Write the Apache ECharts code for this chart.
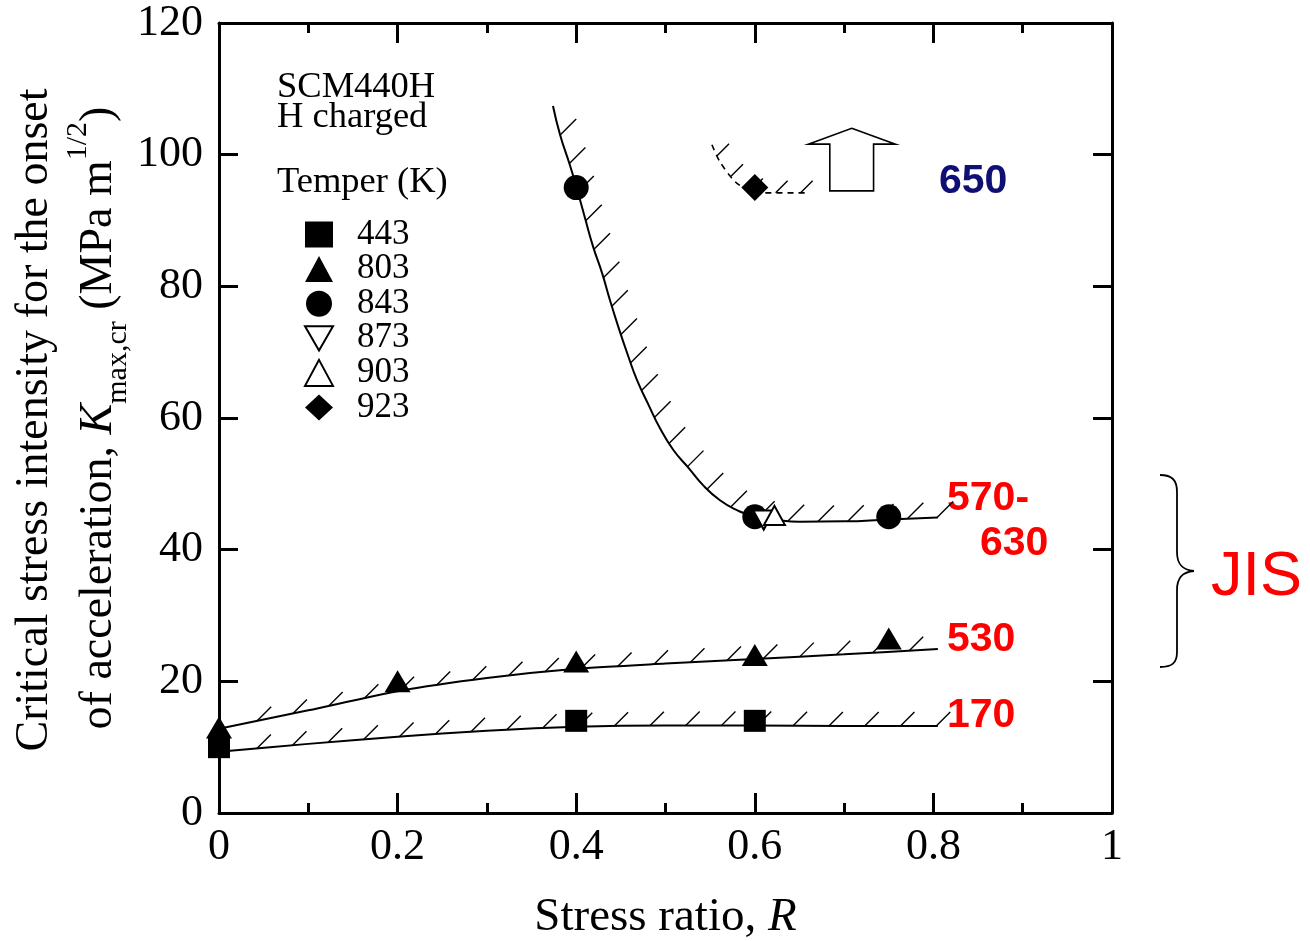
<!DOCTYPE html>
<html>
<head>
<meta charset="utf-8">
<script src="https://cdn.jsdelivr.net/npm/echarts@6/dist/echarts.min.js"></script>
<style>
  html, body { margin: 0; padding: 0; background: #fff; }
  #chart { width: 1310px; height: 941px; }
</style>
</head>
<body>
<div id="chart"></div>
<script>
// ---- tick labels ----
const xTickLabels = ['0', '0.2', '0.4', '0.6', '0.8', '1'];
const yTickLabels = ['0', '20', '40', '60', '80', '100', '120'];

// ---- measured points, [stress ratio R, Kmax,cr] per temper temperature (K) ----
const temperNames = ['443', '803', '843', '873', '903', '923'];
const pts443 = [[0, 10], [0.4, 14], [0.6, 14]];
const pts803 = [[0, 13], [0.2, 20], [0.4, 23], [0.6, 24], [0.75, 26.5]];
const pts843 = [[0.4, 95], [0.6, 45], [0.75, 45]];
const pts873 = [[0.61, 44.5]];
const pts903 = [[0.622, 45.2]];
const pts923 = [[0.6, 95]];

// ---- boundary curves (hatched on the accelerated side) ----
const curve170 = [[0, 9.3], [0.1, 10.5], [0.2, 11.6], [0.3, 12.5], [0.4, 13.1], [0.5, 13.3], [0.6, 13.3], [0.7, 13.2], [0.805, 13.2]];
const curve530 = [[0, 12.8], [0.1, 15.6], [0.2, 18.5], [0.3, 20.5], [0.4, 21.9], [0.5, 22.7], [0.6, 23.4], [0.7, 24.1], [0.805, 24.9]];
const curve600 = [[0.374, 107.4], [0.382, 103], [0.393, 98.4], [0.4, 95.2], [0.41, 90.3], [0.419, 86], [0.429, 82],
                  [0.438, 77.8], [0.448, 73.5], [0.458, 69.5], [0.468, 65.8], [0.481, 62], [0.494, 58.4], [0.509, 55.1],
                  [0.526, 52.4], [0.542, 49.8], [0.561, 47.5], [0.58, 46.0], [0.6, 45.0], [0.625, 44.5], [0.65, 44.25],
                  [0.7, 44.3], [0.75, 44.6], [0.805, 44.9]];
const curve650 = [[0.552, 101.5], [0.561, 98.9], [0.578, 95.9], [0.593, 94.6], [0.61, 94.2], [0.66, 94.2]];

// open block arrow above the 650 K boundary, in data units
const arrowShape = [[0.7085, 104.0], [0.7575, 101.6], [0.733, 101.6], [0.733, 94.5], [0.684, 94.5], [0.684, 101.6], [0.660, 101.6]];

const SERIF = '"Liberation Serif", "Times New Roman", serif';
const SANS = '"Liberation Sans", Arial, sans-serif';
const RED = '#ff0000';
const NAVY = '#0f0f74';

// short 45-degree hatch ticks placed at equal arc length along a curve
function hatchRenderer(curve, spacing, offset, len, width) {
  return function (params, api) {
    const p = curve.map(d => api.coord(d));
    const children = [];
    let next = offset, acc = 0;
    for (let i = 1; i < p.length; i++) {
      const dx = p[i][0] - p[i - 1][0], dy = p[i][1] - p[i - 1][1];
      const seg = Math.hypot(dx, dy);
      while (next <= acc + seg) {
        const t = (next - acc) / seg;
        const x = p[i - 1][0] + dx * t, y = p[i - 1][1] + dy * t;
        children.push({
          type: 'line',
          shape: { x1: x, y1: y, x2: x + len, y2: y - len },
          style: { stroke: '#000', lineWidth: width }
        });
        next += spacing;
      }
      acc += seg;
    }
    return { type: 'group', children };
  };
}

function curveSeries(data, dashed, smooth) {
  return {
    type: 'line', data, symbol: 'none', smooth: smooth, z: 3, silent: true,
    lineStyle: { color: '#000', width: dashed ? 1.6 : 2, type: dashed ? [6, 5] : 'solid' }
  };
}
function hatchSeries(curve, spacing, offset, len, width) {
  return {
    type: 'custom', data: [[0, 0]], z: 2, silent: true,
    renderItem: hatchRenderer(curve, spacing, offset, len, width)
  };
}
function markerSeries(name, data, symbol, size, open) {
  return {
    type: 'scatter', name, data, symbol, symbolSize: size, z: 10,
    itemStyle: open
      ? { color: '#fff', borderColor: '#000', borderWidth: 2, opacity: 1 }
      : { color: '#000', borderColor: '#000', borderWidth: 0, opacity: 1 }
  };
}

const downTriangle = 'path://M0,0 L20,0 L10,17.3 Z';

const axisLineStyle = { color: '#000', width: 3 };
const baseX = {
  type: 'value', min: 0, max: 1, interval: 0.2,
  axisLine: { show: true, onZero: false, lineStyle: axisLineStyle },
  axisTick: { show: true, inside: true, length: 20, lineStyle: { color: '#000', width: 3 } },
  minorTick: { show: true, splitNumber: 2, length: 10, lineStyle: { color: '#000', width: 3 } },
  splitLine: { show: false }, minorSplitLine: { show: false }
};
const baseY = {
  type: 'value', min: 0, max: 120, interval: 20,
  axisLine: { show: true, onZero: false, lineStyle: axisLineStyle },
  axisTick: { show: true, inside: true, length: 19, lineStyle: { color: '#000', width: 3 } },
  splitLine: { show: false }
};

// curly bracket grouping the JIS tempers
const bracket = { stroke: '#000', lineWidth: 1.8, fill: 'none' };

const option = {
  animation: false,
  backgroundColor: '#fff',
  grid: { left: 219, top: 23, right: 198, bottom: 128, containLabel: false, outerBoundsMode: 'none' },
  xAxis: [
    Object.assign({}, baseX, {
      position: 'bottom',
      axisLabel: {
        margin: 12, fontFamily: SERIF, fontSize: 44, color: '#000',
        formatter: v => xTickLabels[Math.round(v / 0.2)]
      },
      name: '{n|Stress ratio, }{i|R}',
      nameLocation: 'middle', nameGap: 81,
      nameTextStyle: {
        rich: {
          n: { fontFamily: SERIF, fontSize: 47, color: '#000' },
          i: { fontFamily: SERIF, fontSize: 47, fontStyle: 'italic', color: '#000' }
        }
      }
    }),
    Object.assign({}, baseX, { position: 'top', axisLabel: { show: false } })
  ],
  yAxis: [
    Object.assign({}, baseY, {
      position: 'left',
      axisLabel: {
        margin: 16, fontFamily: SERIF, fontSize: 44, color: '#000',
        formatter: v => yTickLabels[Math.round(v / 20)]
      }
    }),
    Object.assign({}, baseY, { position: 'right', axisLabel: { show: false } })
  ],
  legend: {
    orient: 'vertical', left: 299, top: 212,
    itemWidth: 28, itemHeight: 26, itemGap: -0.4,
    selectedMode: false,
    data: temperNames,
    textStyle: { fontFamily: SERIF, fontSize: 35, lineHeight: 33, color: '#000', padding: [0, 0, 0, 19] }
  },
  series: [
    hatchSeries(curve170, 35.8, 38, 14, 1.4),
    hatchSeries(curve530, 36.5, 39, 14, 1.4),
    hatchSeries(curve600, 29.8, 30, 16, 1.4),
    hatchSeries(curve650, 25, 12, 12, 1.4),
    curveSeries(curve170, false, 0.25),
    curveSeries(curve530, false, 0.25),
    curveSeries(curve600, false, 0.5),
    curveSeries(curve650, true, 0.3),
    {
      type: 'custom', data: [[0, 0]], z: 4, silent: true,
      renderItem: function (params, api) {
        return {
          type: 'polygon',
          shape: { points: arrowShape.map(d => api.coord(d)) },
          style: { fill: '#fff', stroke: '#000', lineWidth: 1.6 }
        };
      }
    },
    markerSeries('443', pts443, 'rect', [22, 22], false),
    markerSeries('803', pts803, 'triangle', [26, 22], false),
    markerSeries('843', pts843, 'circle', 25, false),
    markerSeries('873', pts873, downTriangle, [21, 19], true),
    markerSeries('903', pts903, 'triangle', [21, 19], true),
    markerSeries('923', pts923, 'diamond', [27, 27], false)
  ],
  graphic: [
    // material / condition block
    { type: 'text', x: 277, y: 69, style: { text: 'SCM440H', font: '36.5px ' + SERIF, fill: '#000' } },
    { type: 'text', x: 277, y: 99, style: { text: 'H charged', font: '36.5px ' + SERIF, fill: '#000' } },
    { type: 'text', x: 277, y: 164, style: { text: 'Temper (K)', font: '36.5px ' + SERIF, fill: '#000' } },
    // y axis title, two rotated lines
    {
      type: 'text', x: 35, y: 420, rotation: Math.PI / 2,
      style: {
        text: 'Critical stress intensity for the onset',
        font: '46px ' + SERIF, fill: '#000', align: 'center', verticalAlign: 'middle'
      }
    },
    {
      type: 'text', x: 99, y: 418, rotation: Math.PI / 2,
      style: {
        text: '{n|of acceleration, }{i|K}{sub|max,cr}{n| (MPa m}{sup|1/2}{n|)}',
        align: 'center', verticalAlign: 'middle',
        rich: {
          n: { font: '46px ' + SERIF, fill: '#000', height: 52, verticalAlign: 'middle' },
          i: { font: 'italic 46px ' + SERIF, fill: '#000', height: 52, verticalAlign: 'middle' },
          sub: { font: '30px ' + SERIF, fill: '#000', verticalAlign: 'bottom', padding: [0, 0, -8, 0] },
          sup: { font: '30px ' + SERIF, fill: '#000', verticalAlign: 'top', padding: [-10, 0, 0, 0] }
        }
      }
    },
    // tempering-temperature labels for each boundary
    { type: 'text', x: 939, y: 161, style: { text: '650', font: 'bold 41px ' + SANS, fill: NAVY } },
    { type: 'text', x: 947, y: 478, style: { text: '570-', font: 'bold 41px ' + SANS, fill: RED } },
    { type: 'text', x: 980, y: 523, style: { text: '630', font: 'bold 41px ' + SANS, fill: RED } },
    { type: 'text', x: 947, y: 619, style: { text: '530', font: 'bold 41px ' + SANS, fill: RED } },
    { type: 'text', x: 947, y: 695, style: { text: '170', font: 'bold 41px ' + SANS, fill: RED } },
    {
      type: 'group',
      children: [
        { type: 'bezierCurve', shape: { x1: 1160, y1: 475, cpx1: 1172, cpy1: 475, cpx2: 1177, cpy2: 480, x2: 1177, y2: 492 }, style: bracket },
        { type: 'line', shape: { x1: 1177, y1: 492, x2: 1177, y2: 552 }, style: bracket },
        { type: 'bezierCurve', shape: { x1: 1177, y1: 552, cpx1: 1177, cpy1: 564, cpx2: 1182, cpy2: 570, x2: 1194, y2: 571 }, style: bracket },
        { type: 'bezierCurve', shape: { x1: 1194, y1: 571, cpx1: 1182, cpy1: 572, cpx2: 1177, cpy2: 578, x2: 1177, y2: 590 }, style: bracket },
        { type: 'line', shape: { x1: 1177, y1: 590, x2: 1177, y2: 652 }, style: bracket },
        { type: 'bezierCurve', shape: { x1: 1177, y1: 652, cpx1: 1177, cpy1: 663, cpx2: 1172, cpy2: 667, x2: 1160, y2: 667 }, style: bracket }
      ]
    },
    { type: 'text', x: 1211, y: 546, style: { text: 'JIS', font: '63px ' + SANS, fill: RED } }
  ]
};

const chart = echarts.init(document.getElementById('chart'), null, { renderer: 'canvas' });
chart.setOption(option);
</script>
</body>
</html>
